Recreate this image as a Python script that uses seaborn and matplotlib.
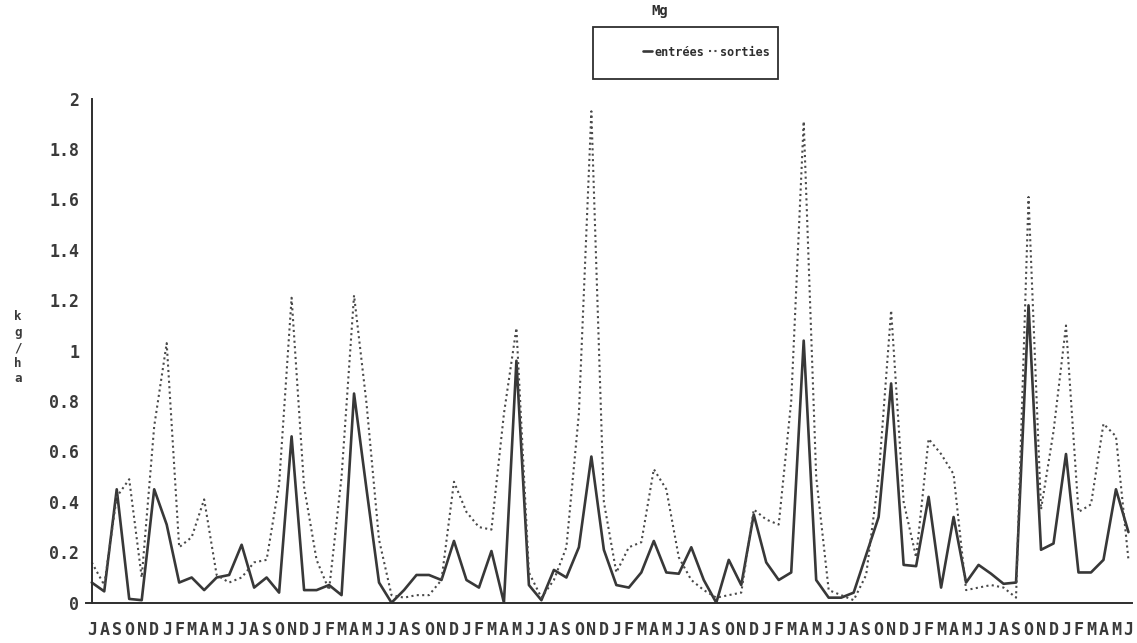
import matplotlib
matplotlib.use("Agg")
import matplotlib.pyplot as plt
from matplotlib.patches import Rectangle
from matplotlib.lines import Line2D
import seaborn as sns

# Monthly Mg fluxes (kg/ha), July to June, seven hydrological years
months = list("JASONDJFMAMJ") * 7

entrees = [
    0.08, 0.045, 0.45, 0.015, 0.01, 0.45, 0.31, 0.08, 0.10, 0.05, 0.10, 0.11,
    0.23, 0.06, 0.10, 0.04, 0.66, 0.05, 0.05, 0.07, 0.03, 0.83, 0.45, 0.08,
    0.0, 0.05, 0.11, 0.11, 0.09, 0.245, 0.09, 0.06, 0.205, 0.0, 0.96, 0.07,
    0.01, 0.13, 0.10, 0.22, 0.58, 0.21, 0.07, 0.06, 0.12, 0.245, 0.12, 0.115,
    0.22, 0.09, 0.0, 0.17, 0.07, 0.35, 0.16, 0.09, 0.12, 1.04, 0.09, 0.02,
    0.02, 0.04, 0.19, 0.34, 0.87, 0.15, 0.145, 0.42, 0.06, 0.34, 0.08, 0.15,
    0.115, 0.075, 0.08, 1.18, 0.21, 0.235, 0.59, 0.12, 0.12, 0.17, 0.45, 0.28,
]

sorties = [
    0.16, 0.07, 0.42, 0.49, 0.10, 0.70, 1.03, 0.22, 0.26, 0.41, 0.11, 0.08,
    0.10, 0.16, 0.17, 0.47, 1.21, 0.46, 0.17, 0.05, 0.50, 1.22, 0.79, 0.25,
    0.03, 0.02, 0.03, 0.03, 0.09, 0.48, 0.36, 0.30, 0.29, 0.75, 1.09, 0.12,
    0.02, 0.09, 0.22, 0.75, 1.95, 0.40, 0.12, 0.22, 0.24, 0.53, 0.45, 0.18,
    0.09, 0.05, 0.02, 0.03, 0.04, 0.37, 0.33, 0.31, 0.80, 1.91, 0.50, 0.05,
    0.03, 0.01, 0.11, 0.50, 1.16, 0.40, 0.18, 0.65, 0.59, 0.51, 0.05, 0.06,
    0.07, 0.06, 0.02, 1.61, 0.37, 0.68, 1.10, 0.36, 0.39, 0.71, 0.66, 0.17,
]

y_ticks = [0, 0.2, 0.4, 0.6, 0.8, 1.0, 1.2, 1.4, 1.6, 1.8, 2.0]
y_tick_labels = ["0", "0.2", "0.4", "0.6", "0.8", "1", "1.2", "1.4", "1.6", "1.8", "2"]
title = "Mg"
series_names = ["entrées", "sorties"]
y_label = "k\ng\n/\nh\na"

sns.set_theme(style="white")
plt.rcParams["font.family"] = ["DejaVu Sans Mono", "DejaVu Sans"]

W, H = 1137, 643
fig = plt.figure(figsize=(W / 100, H / 100), dpi=100)
ax = fig.add_axes([85.5 / W, 40.3 / H, 1046.7 / W, 504 / H])

idx = list(range(len(months)))
ink = "#2e2e2e"
label_ink = "#3a3a3a"
solid_col = "#383838"
dot_col = "#4a4a4a"

sns.lineplot(x=idx, y=entrees, ax=ax, color=solid_col, linewidth=1.9)
sns.lineplot(x=idx, y=sorties, ax=ax, color=dot_col, linewidth=1.5,
             linestyle=(0, (1, 1.6)))

ax.set_xlim(-0.5, 83.3)
ax.set_ylim(0, 2)

for side in ("top", "right"):
    ax.spines[side].set_visible(False)
ax.spines["left"].set_position(("data", 0))
for side in ("left", "bottom"):
    ax.spines[side].set_color(ink)
    ax.spines[side].set_linewidth(1.4)

ax.set_xticks(idx)
ax.set_xticklabels(months)
ax.set_yticks(y_ticks)
ax.set_yticklabels(y_tick_labels)
ax.tick_params(axis="x", direction="inout", length=13, width=1.3, color=ink,
               pad=7, labelsize=12, labelcolor=label_ink)
ax.tick_params(axis="y", direction="inout", length=12, width=1.3, color=ink,
               pad=3, labelsize=12, labelcolor=label_ink)
for lab in ax.get_xticklabels() + ax.get_yticklabels():
    lab.set_fontweight("bold")
ax.set_xlabel("")
ax.set_ylabel("")
ax.grid(False)

# Vertical unit label on the left
fig.text(18 / W, 1 - 348 / H, y_label, ha="center", va="center",
         fontsize=9, fontweight="bold", color=label_ink, linespacing=1.25)

# Title above the legend box
fig.text(660 / W, 1 - 11 / H, title, ha="center", va="center",
         fontsize=10, fontweight="bold", color=ink)

# Legend box with right-aligned entries
fig.patches.append(Rectangle((593 / W, 1 - 79 / H), 185 / W, 52 / H,
                             transform=fig.transFigure, fill=False,
                             edgecolor=ink, linewidth=1.3))
handles = [
    Line2D([], [], color=solid_col, linewidth=1.9),
    Line2D([], [], color=dot_col, linewidth=1.5, linestyle=(0, (1, 1.6))),
]
fig.legend(handles, series_names, loc="center right",
           bbox_to_anchor=(777 / W, 1 - 52 / H), ncol=2, frameon=False,
           handlelength=0.8, handletextpad=0.15, columnspacing=0.4,
           prop={"family": "DejaVu Sans Mono", "weight": "bold", "size": 8.5},
           labelcolor=ink, borderpad=0.1)

fig.savefig("out.png", dpi=100, facecolor="white")
